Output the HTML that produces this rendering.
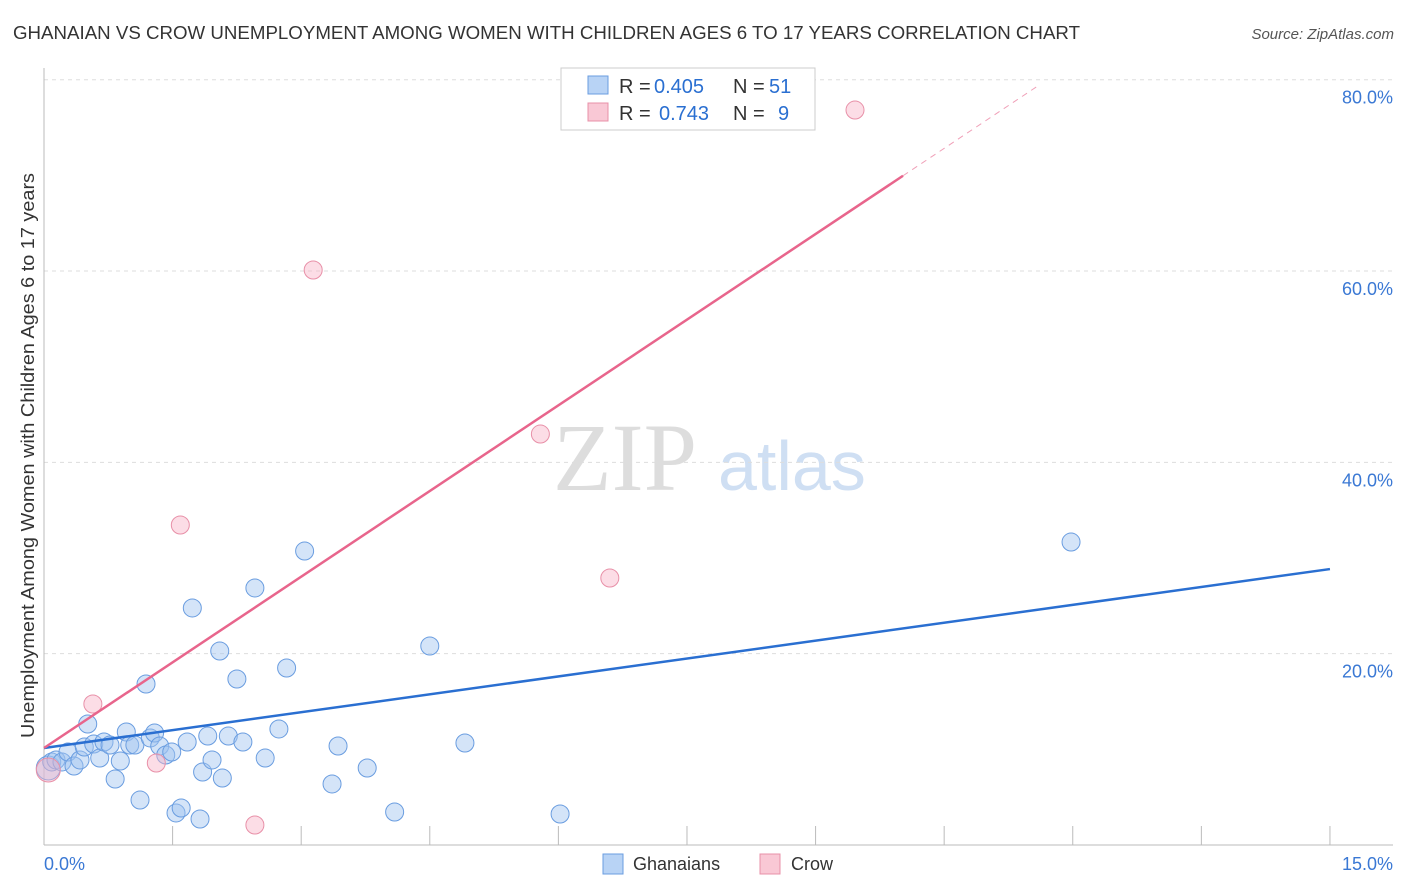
<!DOCTYPE html>
<html><head><meta charset="utf-8"><style>
body{margin:0;background:#fff;font-family:"Liberation Sans",sans-serif;}
svg{display:block}
</style></head><body>
<svg width="1406" height="892" id="c">
<text x="13" y="39" font-size="18" fill="#333" textLength="1067" lengthAdjust="spacingAndGlyphs">GHANAIAN VS CROW UNEMPLOYMENT AMONG WOMEN WITH CHILDREN AGES 6 TO 17 YEARS CORRELATION CHART</text>
<text x="1394" y="39" font-size="15" fill="#555" font-style="italic" text-anchor="end">Source: ZipAtlas.com</text>
<text transform="translate(34,738) rotate(-90)" font-size="18" fill="#333" textLength="565" lengthAdjust="spacingAndGlyphs">Unemployment Among Women with Children Ages 6 to 17 years</text>
<text x="553" y="490" font-size="96" fill="#ddd" font-family="Liberation Serif,serif">ZIP</text>
<text x="718" y="490" font-size="70" fill="#cfdff3">atlas</text>
<g id="grid"></g><g id="marks"></g>
<g font-size="20">
<rect x="561" y="68" width="254" height="62" fill="#fff" stroke="#ccc"/>
<rect x="588" y="76" width="20" height="18" fill="#b8d3f5" stroke="#6a9de0"/>
<rect x="588" y="103" width="20" height="18" fill="#f9c8d5" stroke="#e890a8"/>
<text x="619" y="93" fill="#333">R =</text><text x="654" y="93" fill="#2a6fd1">0.405</text>
<text x="733" y="93" fill="#333">N =</text><text x="769" y="93" fill="#2a6fd1">51</text>
<text x="619" y="120" fill="#333">R =</text><text x="659" y="120" fill="#2a6fd1">0.743</text>
<text x="733" y="120" fill="#333">N =</text><text x="778" y="120" fill="#2a6fd1">9</text>
</g>
<g>
<rect x="603" y="854" width="20" height="20" fill="#b8d3f5" stroke="#6a9de0"/>
<text x="633" y="870" font-size="18" fill="#333">Ghanaians</text>
<rect x="760" y="854" width="20" height="20" fill="#f9c8d5" stroke="#e890a8"/>
<text x="791" y="870" font-size="18" fill="#333">Crow</text>
</g>
</svg>
<script>
const blueX=[0.05,0.09,0.14,0.21,0.28,0.35,0.42,0.47,0.51,0.58,0.65,0.70,0.77,0.83,0.89,0.96,1.00,1.06,1.12,1.19,1.24,1.29,1.35,1.42,1.49,1.54,1.60,1.67,1.73,1.82,1.85,1.91,1.96,2.05,2.08,2.15,2.25,2.32,2.46,2.58,2.74,2.83,3.04,3.36,3.43,3.77,4.09,4.50,4.91,6.02,11.98];
const blueY=[8.05,8.68,8.89,8.68,9.72,8.26,8.89,10.24,12.65,10.56,9.09,10.77,10.45,6.90,8.78,11.81,10.45,10.45,4.70,16.83,11.19,11.71,10.35,9.41,9.72,3.35,3.87,10.77,24.78,2.72,7.63,11.39,8.89,20.28,7.00,11.39,17.35,10.77,26.87,9.09,12.13,18.50,30.73,6.38,10.35,8.05,3.45,20.80,10.66,3.24,31.67];
const pinkX=[0.05,0.57,1.31,1.59,2.46,3.14,5.79,6.60,9.46];
const pinkY=[7.84,14.74,8.57,33.45,2.09,60.11,42.96,27.91,76.83];
const blueFit=[10.14,1.247];
const pinkFit=[10.14,5.97];
const yTicks=[20,40,60,80];
const xTickVals=[0,1.5,3,4.5,6,7.5,9,10.5,12,13.5,15];
const NS='http://www.w3.org/2000/svg';
const sx=v=>44+v*85.73, sy=v=>845-v*9.566;
function mk(t,a,p){const e=document.createElementNS(NS,t);for(const k in a)e.setAttribute(k,a[k]);p.appendChild(e);return e;}
const g=document.getElementById('grid'),m=document.getElementById('marks');
for(const t of yTicks){
 const l=mk('line',{x1:44,x2:1393,y1:sy(t),y2:sy(t),stroke:'#ddd','stroke-dasharray':'4,4'},g);
 
 
 const tx=mk('text',{x:1393,y:sy(t)+24,'font-size':18,fill:'#3a78d4','text-anchor':'end'},g);tx.textContent=t.toFixed(1)+'%';
 
 
}
mk('line',{x1:44,x2:44,y1:68,y2:845,stroke:'#bbb'},g);
mk('line',{x1:44,x2:1393,y1:845,y2:845,stroke:'#bbb'},g);
for(const v of xTickVals){const l=mk('line',{x1:sx(v),x2:sx(v),y1:826,y2:845,stroke:'#bbb'},g);
 
 }
const xl=mk('text',{x:44,y:870,'font-size':18,fill:'#3a78d4'},g);xl.textContent='0.0%';


const xr=mk('text',{x:1393,y:870,'font-size':18,fill:'#3a78d4','text-anchor':'end'},g);xr.textContent='15.0%';


function pts(X,Y,fill,stroke,name){X.forEach((x,i)=>{const c=mk('circle',{cx:sx(x),cy:sy(Y[i]),r:i==0?12:9,fill:fill,stroke:stroke,'stroke-width':1},m);
 
 });}
pts(blueX,blueY,'rgba(160,196,240,0.45)','#6a9de0','ghanaian-point');
pts(pinkX,pinkY,'rgba(248,180,200,0.45)','#e890a8','crow-point');
const bl=mk('line',{x1:sx(0),y1:sy(blueFit[0]),x2:sx(15),y2:sy(blueFit[0]+blueFit[1]*15),stroke:'#2a6fd1','stroke-width':2.5},m);


const pl=mk('line',{x1:sx(0),y1:sy(pinkFit[0]),x2:sx(10.02),y2:sy(pinkFit[0]+pinkFit[1]*10.02),stroke:'#e8658c','stroke-width':2.5},m);


const pd=mk('line',{x1:sx(10.02),y1:sy(pinkFit[0]+pinkFit[1]*10.02),x2:sx(11.62),y2:sy(pinkFit[0]+pinkFit[1]*11.62),stroke:'#f0a0b8','stroke-width':1,'stroke-dasharray':'6,5'},m);


</script>
</body></html>
